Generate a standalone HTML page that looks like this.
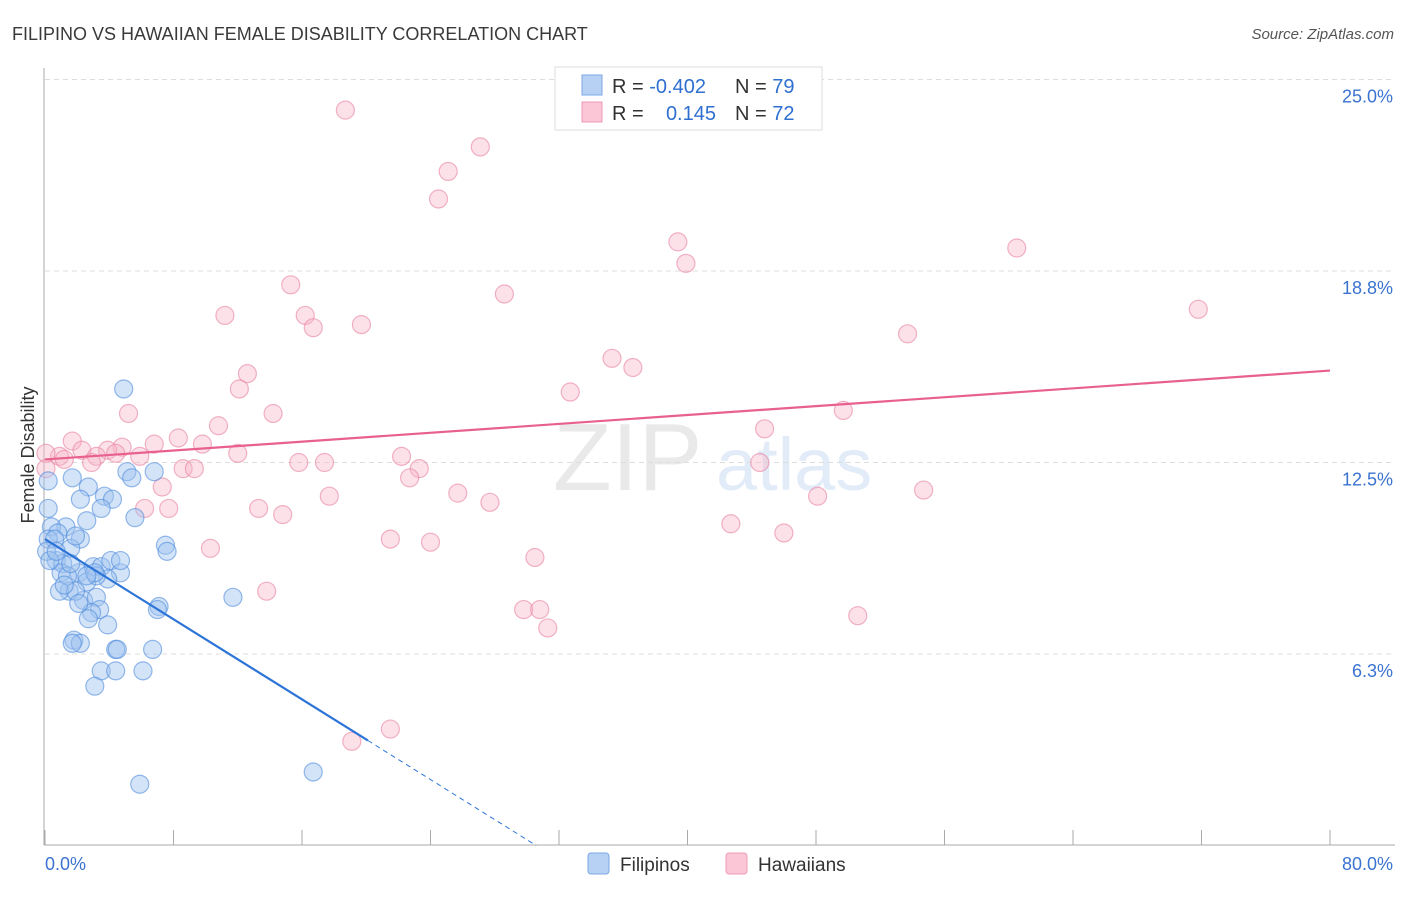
<!DOCTYPE html>
<html><head><meta charset="utf-8"><style>
body{margin:0;background:#fff;font-family:"Liberation Sans",sans-serif;}
svg text{font-family:"Liberation Sans",sans-serif;}
</style></head><body>
<svg id="chart" width="1406" height="892">
<text x="12" y="40" font-size="18" fill="#3a3a3a">FILIPINO VS HAWAIIAN FEMALE DISABILITY CORRELATION CHART</text>
<text x="1394" y="39" font-size="15" font-style="italic" fill="#555" text-anchor="end">Source: ZipAtlas.com</text>
<g opacity="0.25">
<text x="553" y="490" font-size="96" font-family="Liberation Serif" fill="#aaa">ZIP</text>
<text x="716" y="490" font-size="74" fill="#8fb4e6">atlas</text>
</g>
<g id="grid"></g><g id="axes"></g><g id="pts"></g><g id="trend"></g>
<text transform="translate(34,455) rotate(-90)" font-size="18" fill="#333" text-anchor="middle">Female Disability</text>
<g>
<rect x="555" y="67" width="267" height="63" fill="#fff" stroke="#ddd"/>
<rect x="582" y="75" width="20" height="20" fill="#b7d1f4" stroke="#7aa7e3"/>
<rect x="582" y="102" width="20" height="20" fill="#fbc6d6" stroke="#ec9cb4"/>
<text x="612" y="93" font-size="20" fill="#333">R = <tspan fill="#2f6fd1">-0.402</tspan></text>
<text x="735" y="93" font-size="20" fill="#333">N = <tspan fill="#2f6fd1">79</tspan></text>
<text x="612" y="120" font-size="20" fill="#333">R = </text>
<text x="716" y="120" font-size="20" fill="#2f6fd1" text-anchor="end">0.145</text>
<text x="735" y="120" font-size="20" fill="#333">N = <tspan fill="#2f6fd1">72</tspan></text>
</g>
<g>
<rect x="588" y="853" width="21" height="21" rx="3" fill="#b7d1f4" stroke="#7aa7e3"/>
<text x="620" y="871" font-size="19" fill="#333">Filipinos</text>
<rect x="726" y="853" width="21" height="21" rx="3" fill="#fbc6d6" stroke="#ec9cb4"/>
<text x="758" y="871" font-size="19" fill="#333">Hawaiians</text>
</g>
</svg>
<script>
const yTicks=[25,18.75,12.5,6.25];
const yTickLabels=["25.0%","18.8%","12.5%","6.3%"];
const xTicks=[0,8,16,24,32,40,48,56,64,72,80];
const filX=[4.9,5.1,6.8,1.7,2.7,5.4,0.2,3.7,4.2,2.2,0.2,3.5,5.6,2.6,1.3,0.4,0.8,2.2,0.2,0.6,1.6,7.5,7.6,0.7,1.1,2.1,3.0,3.5,4.1,4.7,1.0,1.4,1.5,2.6,2.4,3.2,3.9,3.2,0.9,1.9,3.4,2.9,7.1,7.0,11.7,3.9,2.7,1.8,2.2,1.7,4.4,4.5,6.7,3.5,4.4,6.1,3.1,16.7,5.9,0.1,0.3,1.9,3.1,4.7,0.7,1.6,2.6,1.2,2.1];
const filY=[14.9,12.2,12.2,12.0,11.7,12.0,11.9,11.4,11.3,11.3,11.0,11.0,10.7,10.6,10.4,10.4,10.2,10.0,10.0,10.0,9.7,9.8,9.6,9.3,9.2,8.9,9.1,9.1,9.3,8.9,8.9,8.8,8.3,8.6,8.0,8.1,8.7,8.8,8.3,8.3,7.7,7.6,7.8,7.7,8.1,7.2,7.4,6.7,6.6,6.6,6.4,6.4,6.4,5.7,5.7,5.7,5.2,2.4,2.0,9.6,9.3,10.1,8.9,9.3,9.6,9.2,8.8,8.5,7.9];
const hawX=[18.7,27.1,25.1,24.5,39.4,60.5,39.9,15.3,28.6,71.8,11.2,16.2,16.7,19.7,53.7,35.3,36.6,12.6,12.1,32.7,5.2,14.2,49.7,10.8,44.8,8.3,1.7,9.8,6.8,4.8,3.9,2.3,0.9,0.06,1.2,3.2,4.4,5.9,12.0,22.2,15.8,44.5,2.9,8.6,9.3,17.4,23.3,22.7,7.3,54.7,25.7,17.7,27.7,48.1,6.2,7.7,13.3,14.8,42.7,46.0,21.5,24.0,10.3,30.5,13.8,29.8,30.8,31.3,50.6,21.5,19.1,33.3,0.06];
const hawY=[24.0,22.8,22.0,21.1,19.7,19.5,19.0,18.3,18.0,17.5,17.3,17.3,16.9,17.0,16.7,15.9,15.6,15.4,14.9,14.8,14.1,14.1,14.2,13.7,13.6,13.3,13.2,13.1,13.1,13.0,12.9,12.9,12.7,12.8,12.6,12.7,12.8,12.7,12.8,12.7,12.5,12.5,12.5,12.3,12.3,12.5,12.3,12.0,11.7,11.6,11.5,11.4,11.2,11.4,11.0,11.0,11.0,10.8,10.5,10.2,10.0,9.9,9.7,9.4,8.3,7.7,7.7,7.1,7.5,3.8,3.4,24.3,12.3];
const filTrend=[10.0,-0.327];   // intercept, slope
const hawTrend=[12.6,0.03625];
const filSolidEnd=20.1;
const NS="http://www.w3.org/2000/svg";
const X=v=>45+v/80*1285, Y=v=>845.5-v/6.25*191.5;
function mk(t,a,p){const e=document.createElementNS(NS,t);for(const k in a)e.setAttribute(k,a[k]);document.getElementById(p).appendChild(e);return e;}
yTicks.forEach((t,i)=>{
 const l=mk('line',{x1:45,x2:1395,y1:Y(t),y2:Y(t),stroke:'#ddd','stroke-dasharray':'5,4'},'grid');
 
 
 const tx=mk('text',{x:1393,y:Y(t)+23,'font-size':18,fill:'#3b73d1','text-anchor':'end'},'grid');
 tx.textContent=yTickLabels[i];
 
 
});
mk('line',{x1:44,x2:44,y1:68,y2:845,stroke:'#aaa'},'axes');
mk('line',{x1:44,x2:1395,y1:845,y2:845,stroke:'#aaa'},'axes');
xTicks.forEach(t=>{const l=mk('line',{x1:X(t),x2:X(t),y1:830,y2:845,stroke:'#aaa'},'axes');
 
 });
let a=mk('text',{x:45,y:870,'font-size':18,fill:'#3b73d1'},'axes');a.textContent="0.0%";


a=mk('text',{x:1393,y:870,'font-size':18,fill:'#3b73d1','text-anchor':'end'},'axes');a.textContent="80.0%";


hawX.forEach((x,i)=>{const c=mk('circle',{cx:X(x),cy:Y(hawY[i]),r:9,fill:'rgba(248,180,200,0.4)',stroke:'rgba(232,130,160,0.6)','stroke-width':1.2},'pts');
 
 });
filX.forEach((x,i)=>{const c=mk('circle',{cx:X(x),cy:Y(filY[i]),r:9,fill:'rgba(160,195,240,0.45)',stroke:'rgba(80,140,220,0.6)','stroke-width':1.2},'pts');
 
 });
const fy=x=>filTrend[0]+filTrend[1]*x, hy=x=>hawTrend[0]+hawTrend[1]*x;
let t=mk('line',{x1:X(0),y1:Y(hy(0)),x2:X(80),y2:Y(hy(80)),stroke:'#e8608f','stroke-width':2.2},'trend');


t=mk('line',{x1:X(0),y1:Y(fy(0)),x2:X(filSolidEnd),y2:Y(fy(filSolidEnd)),stroke:'#2d74d8','stroke-width':2.2},'trend');


const xEnd=-filTrend[0]/filTrend[1];
t=mk('line',{x1:X(filSolidEnd),y1:Y(fy(filSolidEnd)),x2:X(xEnd),y2:Y(0),stroke:'#2d74d8','stroke-width':1,'stroke-dasharray':'5,4'},'trend');


</script>
</body></html>
